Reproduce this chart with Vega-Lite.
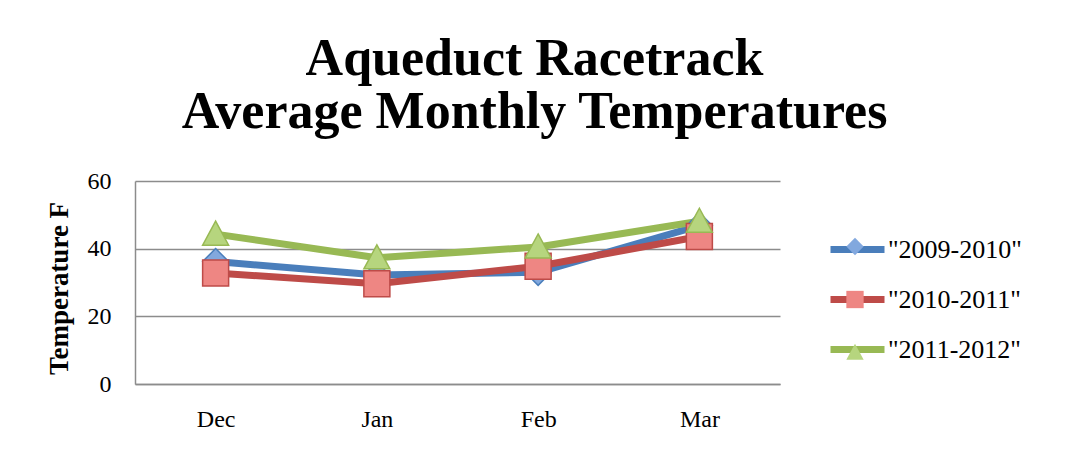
{
  "$schema": "https://vega.github.io/schema/vega-lite/v6.json",
  "width": 645,
  "height": 203,
  "autosize": {"type": "none"},
  "padding": {"left": 135, "top": 181, "right": 288, "bottom": 68},
  "background": "white",
  "title": {
    "text": ["Aqueduct Racetrack", "Average Monthly Temperatures"],
    "font": "Liberation Serif",
    "fontSize": 52,
    "fontWeight": "bold",
    "color": "black",
    "lineHeight": 53,
    "anchor": "middle",
    "frame": "group",
    "dx": 77,
    "offset": 30
  },
  "data": {
    "values": [
      {"month": "Dec", "series": "2009-2010", "temp": 36.2},
      {"month": "Jan", "series": "2009-2010", "temp": 32.2},
      {"month": "Feb", "series": "2009-2010", "temp": 33.0},
      {"month": "Mar", "series": "2009-2010", "temp": 46.8},
      {"month": "Dec", "series": "2010-2011", "temp": 32.8},
      {"month": "Jan", "series": "2010-2011", "temp": 29.6},
      {"month": "Feb", "series": "2010-2011", "temp": 34.8},
      {"month": "Mar", "series": "2010-2011", "temp": 43.6},
      {"month": "Dec", "series": "2011-2012", "temp": 44.3},
      {"month": "Jan", "series": "2011-2012", "temp": 37.3},
      {"month": "Feb", "series": "2011-2012", "temp": 40.5},
      {"month": "Mar", "series": "2011-2012", "temp": 48.1}
    ]
  },
  "encoding": {
    "x": {
      "field": "month",
      "type": "nominal",
      "sort": ["Dec", "Jan", "Feb", "Mar"],
      "scale": {"paddingInner": 0, "paddingOuter": 0},
      "axis": {
        "title": null,
        "labelAngle": 0,
        "labelFont": "Liberation Serif",
        "labelFontSize": 24,
        "labelColor": "black",
        "ticks": false,
        "labelPadding": 23,
        "domainColor": "#8c8c8c",
        "domainWidth": 1.5,
        "grid": false
      }
    },
    "y": {
      "field": "temp",
      "type": "quantitative",
      "scale": {"domain": [0, 60], "nice": false},
      "axis": {
        "title": "Temperature  F",
        "titleFont": "Liberation Serif",
        "titleFontSize": 27,
        "titleFontWeight": "bold",
        "titleColor": "black",
        "titleX": -76,
        "titleY": 107,
        "titleAngle": -90,
        "titleAlign": "center",
        "titleBaseline": "middle",
        "values": [0, 20, 40, 60],
        "labelFont": "Liberation Serif",
        "labelFontSize": 24,
        "labelColor": "black",
        "ticks": false,
        "labelPadding": 24,
        "domainColor": "#8c8c8c",
        "domainWidth": 1.5,
        "grid": true,
        "gridColor": "#8c8c8c",
        "gridWidth": 1.5
      }
    }
  },
  "layer": [
    {
      "mark": {"type": "line", "strokeWidth": 7, "strokeCap": "round", "strokeJoin": "round"},
      "encoding": {
        "stroke": {
          "field": "series",
          "type": "nominal",
          "scale": {"range": ["#4A7EBB", "#BE4B48", "#98B954"]},
          "legend": {
            "title": null,
            "orient": "none",
            "legendX": 692,
            "legendY": 38,
            "padding": 0,
            "symbolType": "stroke",
            "symbolSize": 2916,
            "symbolStrokeWidth": 7,
            "labelFont": "Liberation Serif",
            "labelFontSize": 26,
            "labelColor": "black",
            "labelOffset": 0,
            "rowPadding": 5,
            "labelExpr": "'\"' + datum.label + '\"'"
          }
        }
      }
    },
    {
      "mark": {"type": "point", "filled": true, "opacity": 1, "strokeWidth": 1.5},
      "encoding": {
        "shape": {
          "field": "series",
          "type": "nominal",
          "scale": {"domain": ["2009-2010", "2010-2011", "2011-2012"], "range": ["diamond", "square", "M0,-1L1,0.85L-1,0.85Z"]},
          "legend": {
            "title": null,
            "orient": "none",
            "legendX": 710.5,
            "legendY": 56,
            "padding": 0,
            "symbolSize": 300,
            "labelFontSize": 1,
            "labelExpr": "''",
            "rowPadding": 28,
            "encode": {
              "symbols": {
                "update": {
                  "fill": {"scale": "fill", "field": "value"},
                  "stroke": {"scale": "stroke", "field": "value"},
                  "strokeWidth": {"value": 1.5},
                  "opacity": {"value": 1}
                }
              }
            }
          }
        },
        "size": {"value": 676},
        "fill": {
          "field": "series",
          "type": "nominal",
          "scale": {"domain": ["2009-2010", "2010-2011", "2011-2012"], "range": ["#82A8DE", "#EE8683", "#B6D57E"]},
          "legend": null
        },
        "stroke": {"field": "series", "type": "nominal"}
      }
    }
  ],
  "config": {
    "view": {"stroke": null}
  }
}
